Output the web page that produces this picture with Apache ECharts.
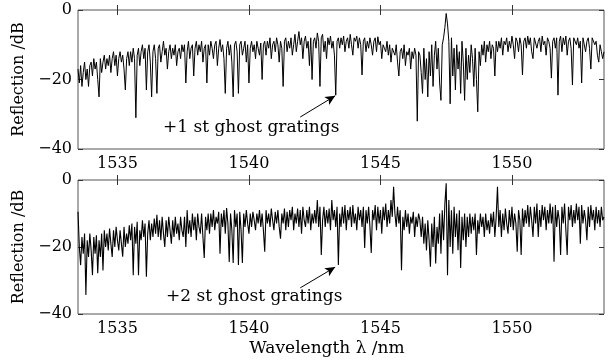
<!DOCTYPE html>
<html>
<head>
<meta charset="utf-8">
<script src="https://cdn.jsdelivr.net/npm/echarts@6/dist/echarts.min.js"></script>
<style>
  html, body { margin: 0; background: #fff; }
  #chart { width: 612px; height: 362px; }
</style>
</head>
<body>
<div id="chart"></div>
<script>
// sampling grid of the spectra (nm)
const wlStart = 1533.5
const wlStep = 0.05
const xTicks = [1535, 1540, 1545, 1550]

// reflection in dB, one row per nm
const topReflection = [
  -17,-21,-16,-22,-18,-15,-20,-17,-22,-16,-15,-19,-14,-17,-15,-20,-25,-14,-18,-15,
  -13,-17,-14,-16,-13,-18,-14,-12,-16,-13,-19,-14,-12,-15,-13,-17,-23,-14,-12,-16,
  -12,-15,-11,-14,-31,-13,-11,-16,-12,-10,-14,-11,-23,-12,-10,-15,-25,-12,-10,-14,
  -24,-11,-10,-15,-12,-9,-13,-11,-17,-12,-10,-14,-11,-13,-10,-16,-12,-11,-14,-10,
  -12,-10,-21,-12,-9,-14,-11,-10,-19,-11,-9,-13,-10,-12,-9,-15,-11,-10,-21,-10,
  -13,-9,-11,-14,-10,-9,-16,-11,-8.5,-12,-10,-14,-24,-11,-9,-13,-10,-15,-25,-10,
  -9,-12,-24,-10,-9,-13,-11,-9,-15,-10,-21,-11,-9,-12,-10,-14,-9,-11,-13,-9.5,
  -20,-10,-9,-13,-9,-11,-8,-14,-10,-9,-12,-8,-10,-15,-9,-11,-22,-9,-8,-12,
  -9,-11,-8,-13,-10,-7,-12,-9,-6.2,-10,-8,-14,-9,-7.5,-11,-9,-16,-8,-20,-9,
  -8,-11,-6.6,-9,-22,-8,-7,-12,-9,-14,-8,-10,-7.5,-11,-9,-13,-24.5,-9,-8,-11,
  -8,-10,-7.5,-12,-9,-8,-11,-7,-10,-13,-8,-9,-7.5,-11,-8,-10,-18.7,-9,-8,-12,
  -9,-11,-8,-10,-13,-9,-8,-12,-7.7,-10,-9,-14,-10,-11,-12,-9,-13,-10,-15,-11,
  -11,-13,-10,-15,-19,-12,-11,-14,-10,-16,-12,-13,-11,-17,-12,-14,-11,-13,-32,-12,
  -13,-18,-24,-11,-20,-14,-25,-12,-19,-10,-22,-13,-9,-17,-11,-21,-26,-10,-8,-5,
  -1,-4,-9,-27,-8,-19,-11,-23,-10,-17,-12,-24,-9,-15,-26,-11,-20,-13,-18,-10,
  -14,-22,-11,-20,-29.3,-12,-16,-10,-13,-9,-15,-10,-12,-9,-14,-10,-11,-19,-9,-12,
  -9,-11,-8,-13,-9,-10,-8,-12,-9,-11,-7.5,-10,-14,-8,-9,-12,-8,-10,-18.7,-9,
  -8,-11,-7.5,-10,-8,-12,-14,-8,-7.5,-11,-9,-8,-12,-7.5,-10,-9,-13,-8,-9,-11,
  -19.6,-9,-8,-11,-8,-24.5,-9,-7.5,-12,-8,-10,-7.5,-13,-9,-8,-11,-21.6,-8,-7.5,-10,
  -8,-11,-9,-21,-8,-7.5,-12,-9,-8,-11,-17,-8,-7.5,-10,-9,-13,-15,-10,-12,-14,
  -12
]

const bottomReflection = [
  -9.5,-20,-25.4,-17,-22,-16,-34.3,-18,-23,-16,-21,-28.4,-17,-22,-16.5,-27.8,-18,-23,-16,-27,
  -15,-20,-16,-21,-14.5,-19,-23,-15,-20,-14,-18,-21,-15,-19,-22.9,-14,-20,-16,-19,-13.5,
  -18,-13,-28.4,-14,-19,-12.5,-28.4,-15,-18,-12,-17,-13,-28.9,-16,-12,-18,-13,-17,-11.5,-16,
  -10.4,-17,-12,-18,-11,-16,-20,-12,-17,-11,-15,-19,-12,-17,-11,-16,-13,-18,-11,-15,
  -17,-11,-20,-9,-16,-12,-17,-10,-15,-11,-18,-10,-14,-16,-10,-17,-23.3,-11,-15,-10,
  -16,-10,-14,-9,-15,-11,-13,-9.5,-22,-10,-14,-9,-16,-8.4,-13,-24.5,-10,-15,-24.8,-9,
  -14,-10,-25.4,-9.5,-15,-24.8,-10,-14,-9,-13,-16,-10,-14,-9.5,-12,-15,-10,-13,-9,-14,
  -10,-15,-21.4,-9,-13,-10,-14,-8.5,-12,-15,-9.5,-13,-9,-14,-17.5,-10,-13,-8.5,-15,-9.5,
  -14,-9,-12,-8,-15,-10,-13,-8.5,-14,-9,-16,-8,-12,-14,-9,-13,-8,-15,-10,-13,
  -9,-13,-6,-14,-8,-22.4,-12,-8,-14,-9,-13,-8.5,-15,-6,-12,-9,-14,-8,-25.4,-10,
  -14,-8,-13,-7.5,-15,-9,-12,-8,-14,-7.5,-13,-10,-15,-8,-12,-9,-14,-8,-20.3,-9,
  -13,-8,-14,-21.8,-9,-12,-7.5,-15,-8,-13,-9,-16,-8,-12,-7,-14,-9,-13,-6,-11,
  -2,-10,-14,-8,-13,-9,-26.9,-11,-15,-9,-14,-10,-16,-11,-13,-9.5,-17,-11,-14,-10,
  -12,-17,-11,-19,-13,-21,-12,-18,-25.9,-13,-20,-11,-24.9,-14,-19,-10,-22,-9,-18,-7,
  -1,-28.4,-6,-20,-9,-22,-8,-17,-10,-21,-9,-26.3,-11,-18,-10,-20,-11,-17,-10,-16,
  -11,-15,-10,-22.4,-12,-16,-10,-14,-11,-17,-10,-15,-12,-16,-10,-14,-9.5,-17,-11,-2,
  -14,-9,-17,-10,-15,-8.5,-13,-16,-9,-14,-8,-15,-10,-13,-21.4,-9,-12,-22.4,-8.5,-14,
  -9,-13,-7.5,-14,-8,-12,-17,-8,-13,-7,-17,-9,-14,-7.5,-12,-8,-15,-9,-13,-7,
  -13,-8,-24.4,-7.5,-14,-9,-12,-22.4,-8,-13,-7,-15,-22.4,-8,-12,-7.5,-14,-9,-13,-7,
  -12,-8,-19,-7.5,-13,-9,-12,-18,-8,-14,-7.5,-12,-9,-15,-8,-13,-9,-14,-8,-12,
  -11
]

// arrows pointing at the ghost gratings: [tail, head] in data units
const topArrow = [[1541.95, -30.8], [1543.28, -24.7]]
const bottomArrow = [[1541.95, -32.2], [1543.28, -26.0]]

const serif = "'DejaVu Serif', serif"
const toPairs = vals => vals.map((v, i) => [+(wlStart + i * wlStep).toFixed(2), v])
const minus = v => String(v).replace('-', '\u2212')

const chart = echarts.init(document.getElementById('chart'))

const grids = [
  { left: 78, top: 10, width: 526, height: 139 },
  { left: 78, top: 180, width: 526, height: 134 }
]

const xAxes = []
const yAxes = []
grids.forEach((g, i) => {
  const base = {
    gridIndex: i, type: 'value', min: 1533.5, max: 1553.5,
    axisLine: { show: false }, splitLine: { show: false },
    axisTick: { inside: true, length: 5, customValues: xTicks, lineStyle: { color: '#333' } }
  }
  xAxes.push(Object.assign({}, base, {
    position: 'bottom',
    axisLabel: { customValues: xTicks, formatter: v => String(v), margin: 7, color: '#000', fontFamily: serif, fontSize: 16 },
    name: i === 1 ? 'Wavelength \u03bb /nm' : '',
    nameLocation: 'middle', nameGap: 26,
    nameTextStyle: { color: '#000', fontFamily: serif, fontSize: 17, padding: [0, 28, 0, 0] }
  }))
  xAxes.push(Object.assign({}, base, { position: 'top', axisLabel: { show: false } }))
  const ybase = {
    gridIndex: i, type: 'value', min: -40, max: 0, interval: 20,
    axisLine: { show: false }, splitLine: { show: false },
    axisTick: { inside: true, length: 5, lineStyle: { color: '#333' } }
  }
  yAxes.push(Object.assign({}, ybase, {
    position: 'left',
    axisLabel: { formatter: minus, margin: 6, color: '#000', fontFamily: serif, fontSize: 16 },
    name: 'Reflection /dB', nameLocation: 'middle', nameGap: 45, nameRotate: 90,
    nameTextStyle: { color: '#000', fontFamily: serif, fontSize: 16 }
  }))
  yAxes.push(Object.assign({}, ybase, { position: 'right', axisLabel: { show: false } }))
})

const arrowLine = pts => ({
  silent: true, animation: false,
  symbol: ['none', 'arrow'], symbolSize: [7, 10],
  lineStyle: { color: '#000', width: 1, type: 'solid' },
  label: { show: false },
  data: [[{ coord: pts[0] }, { coord: pts[1] }]]
})

chart.setOption({
  animation: false,
  grid: grids.map(g => Object.assign({ show: true, borderColor: '#555', borderWidth: 1 }, g)),
  xAxis: xAxes,
  yAxis: yAxes,
  series: [
    {
      type: 'line', xAxisIndex: 0, yAxisIndex: 0, data: toPairs(topReflection),
      showSymbol: false,
      lineStyle: { color: '#000', width: 1 }, markLine: arrowLine(topArrow)
    },
    {
      type: 'line', xAxisIndex: 2, yAxisIndex: 2, data: toPairs(bottomReflection),
      showSymbol: false,
      lineStyle: { color: '#000', width: 1.1 }, markLine: arrowLine(bottomArrow)
    }
  ],
  graphic: [
    { type: 'text', x: 163, y: 128, style: { text: '+1 st ghost gratings', font: '17px ' + serif, fill: '#000', verticalAlign: 'middle', textVerticalAlign: 'middle' } },
    { type: 'text', x: 166, y: 297, style: { text: '+2 st ghost gratings', font: '17px ' + serif, fill: '#000', verticalAlign: 'middle', textVerticalAlign: 'middle' } }
  ]
})
</script>
</body>
</html>
